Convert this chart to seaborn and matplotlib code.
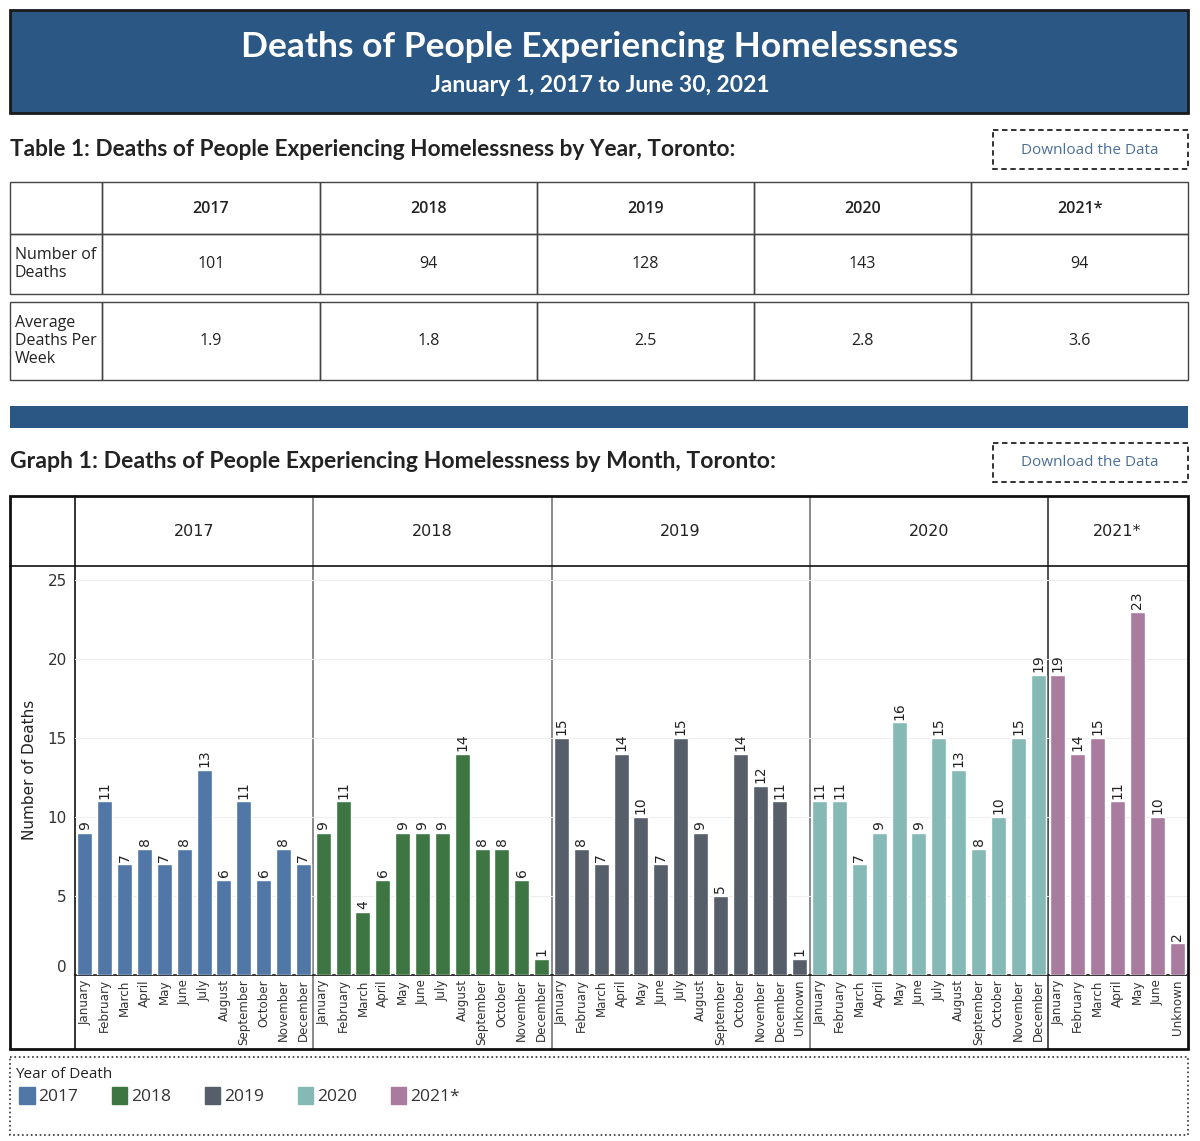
import matplotlib.pyplot as plt
import matplotlib.patches as mpatches
import pandas as pd
import seaborn as sns

W, H = 1200, 1141

# table 1
YEARS = ["2017", "2018", "2019", "2020", "2021*"]
YEAR_DEATHS = ["101", "94", "128", "143", "94"]
YEAR_WEEKLY = ["1.9", "1.8", "2.5", "2.8", "3.6"]

# graph 1
MONTHS = ["January", "February", "March", "April", "May", "June", "July",
          "August", "September", "October", "November", "December"]
MONTHS_2017 = MONTHS
MONTHS_2018 = MONTHS
MONTHS_2019 = MONTHS + ["Unknown"]
MONTHS_2020 = MONTHS
MONTHS_2021 = MONTHS[:6] + ["Unknown"]

DEATHS_2017 = [9, 11, 7, 8, 7, 8, 13, 6, 11, 6, 8, 7]
DEATHS_2018 = [9, 11, 4, 6, 9, 9, 9, 14, 8, 8, 6, 1]
DEATHS_2019 = [15, 8, 7, 14, 10, 7, 15, 9, 5, 14, 12, 11, 1]
DEATHS_2020 = [11, 11, 7, 9, 16, 9, 15, 13, 8, 10, 15, 19]
DEATHS_2021 = [19, 14, 15, 11, 23, 10, 2]

YEAR_COLORS = ["#5077a6", "#3d7543", "#555e69", "#85b9b5", "#a97b9f"]
BANNER = "#2a5783"
TXT = "#222222"

sns.set_theme(style="white")
plt.rcParams["font.family"] = ["Open Sans", "DejaVu Sans"]

frames = []
for yr, months, vals in zip(
    YEARS,
    [MONTHS_2017, MONTHS_2018, MONTHS_2019, MONTHS_2020, MONTHS_2021],
    [DEATHS_2017, DEATHS_2018, DEATHS_2019, DEATHS_2020, DEATHS_2021],
):
    frames.append(pd.DataFrame({"year": yr, "month": months, "deaths": vals}))
df = pd.concat(frames, ignore_index=True)

fig = plt.figure(figsize=(W / 100, H / 100), dpi=100)
bg = fig.add_axes([0, 0, 1, 1])
bg.set_xlim(0, W)
bg.set_ylim(H, 0)
bg.axis("off")

# banner
bg.add_patch(mpatches.Rectangle((10, 10), 1178, 103, fc=BANNER, ec="#1a1a1a", lw=2))
bg.text(600, 47, "Deaths of People Experiencing Homelessness", color="white",
        ha="center", va="center", fontsize=25.5, fontweight="bold", family="Lato")
bg.text(600, 85, "January 1, 2017 to June 30, 2021", color="white",
        ha="center", va="center", fontsize=16.5, fontweight="bold", family="Lato")


def section_title(y, s, size):
    bg.text(10, y, s, ha="left", va="center", fontsize=size, fontweight="bold",
            family="Lato", color=TXT)
    bg.add_patch(mpatches.Rectangle((993, y - 19), 195, 39, fc="none", ec="#222",
                                    lw=1.3, ls=(0, (3, 2))))
    bg.text(1090, y + 1, "Download the Data", ha="center", va="center",
            fontsize=11, color="#4a6f98")


section_title(149, "Table 1: Deaths of People Experiencing Homelessness by Year, Toronto:", 16.3)

# table
col_edges = [10, 102, 320, 537, 754, 971, 1188]
rows = [(182, 234), (234, 294), (302, 380)]
for (y0, y1) in rows:
    for i in range(len(col_edges) - 1):
        bg.add_patch(mpatches.Rectangle((col_edges[i], y0), col_edges[i + 1] - col_edges[i],
                                        y1 - y0, fc="none", ec="#444", lw=1))
for i, yr in enumerate(YEARS):
    cx = (col_edges[i + 1] + col_edges[i + 2]) / 2
    bg.text(cx, 209, yr, ha="center", va="center", fontsize=11.5, color=TXT, fontweight="semibold")
    bg.text(cx, 264, YEAR_DEATHS[i], ha="center", va="center", fontsize=11.5, color=TXT)
    bg.text(cx, 341, YEAR_WEEKLY[i], ha="center", va="center", fontsize=11.5, color=TXT)
bg.text(15, 264, "Number of\nDeaths", ha="left", va="center", fontsize=11.5,
        color=TXT, linespacing=1.15)
bg.text(15, 341, "Average\nDeaths Per\nWeek", ha="left", va="center", fontsize=11.5,
        color=TXT, linespacing=1.15)

# separator bar
bg.add_patch(mpatches.Rectangle((10, 406), 1178, 22, fc=BANNER, ec="none"))

section_title(462, "Graph 1: Deaths of People Experiencing Homelessness by Month, Toronto:", 16.6)

# graph frame
top, head_bot, base, bot = 496, 566, 975, 1049
left, right = 75, 1187
counts = [len(m) for m in [MONTHS_2017, MONTHS_2018, MONTHS_2019, MONTHS_2020, MONTHS_2021]]
step = (right - left) / sum(counts)
edges = [left]
for n in counts:
    edges.append(edges[-1] + n * step)

for i, (yr, color) in enumerate(zip(YEARS, YEAR_COLORS)):
    sub = df[df["year"] == yr]
    x0, x1 = edges[i], edges[i + 1]
    ax = fig.add_axes([x0 / W, 1 - base / H, (x1 - x0) / W, (base - head_bot) / H])
    ax.patch.set_alpha(0)
    sns.barplot(data=sub, x="month", y="deaths", color=color, saturation=1,
                width=0.76, ax=ax)
    ax.bar_label(ax.containers[0], labels=[str(v) for v in sub["deaths"]],
                 rotation=90, padding=2, fontsize=10, color=TXT, family="DejaVu Sans")
    ax.set_xlim(-0.5, len(sub) - 0.5)
    ax.set_ylim(0, 25.9)
    ax.set_yticks([0, 5, 10, 15, 20, 25])
    ax.yaxis.grid(True, color="#eeeeee", lw=0.8)
    ax.set_axisbelow(True)
    ax.set_xlabel("")
    ax.set_ylabel("")
    ax.set_xticks(range(len(sub)))
    ax.set_xticklabels(sub["month"], rotation=90, fontsize=8.6, color="#333",
                       family="DejaVu Sans")
    ax.tick_params(axis="x", length=0, pad=3)
    ax.tick_params(axis="y", length=0, pad=6)
    if i == 0:
        ax.set_yticklabels(["0", "5", "10", "15", "20", "25"], fontsize=11,
                           color="#333", family="DejaVu Sans")
        ax.get_yticklabels()[0].set_va("bottom")
    else:
        ax.set_yticklabels([])
    for s in ax.spines.values():
        s.set_visible(False)
    bg.text((x0 + x1) / 2, 532, yr, ha="center", va="center", fontsize=11.5,
            color=TXT, family="DejaVu Sans")
    if 0 < i:
        bg.plot([x0, x0], [top, bot], color="#777" if i < 4 else "#333", lw=1.2)

bg.add_patch(mpatches.Rectangle((10, top), 1178, bot - top, fc="none", ec="#111", lw=2, zorder=5))
bg.plot([10, 1188], [head_bot, head_bot], color="#111", lw=1.2)
bg.plot([75, 75], [top, bot], color="#111", lw=1.2)
bg.plot([75, 1188], [base, base], color="#111", lw=1.2)
bg.text(30, 770, "Number of Deaths", rotation=90, ha="center", va="center",
        fontsize=11, color=TXT, family="DejaVu Sans")

# legend
bg.add_patch(mpatches.Rectangle((10, 1057), 1178, 78, fc="none", ec="#333", lw=1.2, ls=":"))
bg.text(15, 1074, "Year of Death", ha="left", va="center", fontsize=11, color=TXT)
handles = [mpatches.Patch(color=c, label=y) for y, c in zip(YEARS, YEAR_COLORS)]
fig.legend(handles=handles, loc="center left", bbox_to_anchor=(19 / W, 1 - 1096 / H),
           ncol=5, frameon=False, borderpad=0, borderaxespad=0,
           handlelength=0.9, handleheight=1.1, handletextpad=0.2,
           columnspacing=1.95, fontsize=12.5, labelcolor="#333")

fig.savefig("out.png", dpi=100)
